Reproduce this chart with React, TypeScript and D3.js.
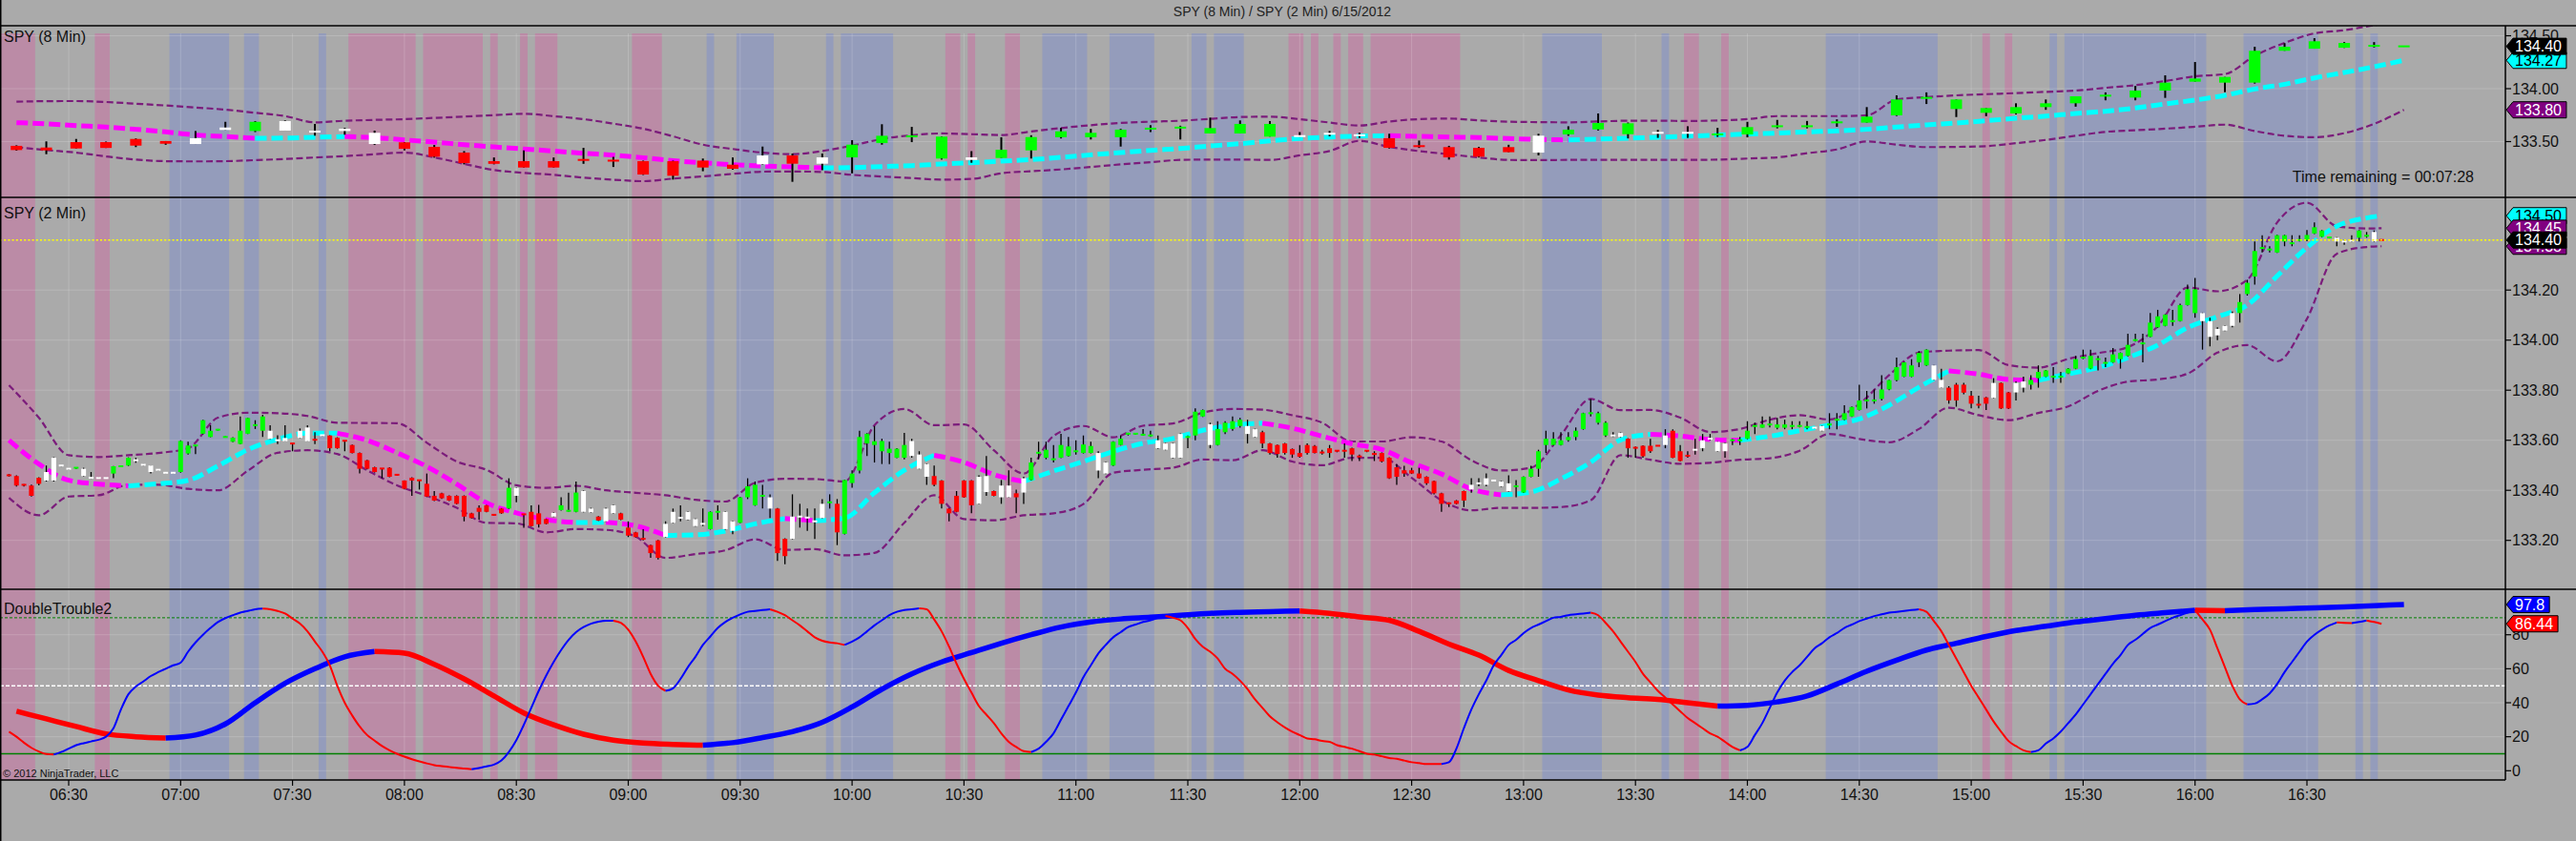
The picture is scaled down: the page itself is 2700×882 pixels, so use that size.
import React from "react";
import * as d3 from "d3";

// ---------------- DATA ----------------
const TITLE = "SPY (8 Min) / SPY (2 Min)  6/15/2012";
const TIME_REMAINING = "Time remaining = 00:07:28";
const COPYRIGHT = "\u00A9 2012 NinjaTrader, LLC";
const PANEL_LABELS = ["SPY (8 Min)", "SPY (2 Min)", "DoubleTrouble2"];

const xTickLabels = ["06:30","07:00","07:30","08:00","08:30","09:00","09:30","10:00","10:30","11:00","11:30","12:00","12:30","13:00","13:30","14:00","14:30","15:00","15:30","16:00","16:30"];
const y1Ticks = [133.5, 134.0, 134.5];
const y2Ticks = [133.2, 133.4, 133.6, 133.8, 134.0, 134.2];
const y3Ticks = [0, 20, 40, 60, 80];
const oscLevels = [90, 50, 10];

const FIRST_8MIN = "06:16";
const STEP_8MIN = 8;
const FIRST_2MIN = "06:14";
const STEP_2MIN = 2;
const BAND_SAMPLE_STEP = 4; // 2-min band/MA values are read every 4th 2-min bar (+ last bar)

const pinkBands: [string, string][] = [
  ["06:11","06:21"],["06:37","06:41"],["07:45","08:03"],["08:05","08:21"],["08:23","08:25"],
  ["08:31","08:33"],["08:35","08:41"],["09:01","09:09"],["10:25","10:29"],["10:31","10:33"],
  ["10:41","10:45"],["11:57","12:01"],["12:03","12:05"],["12:09","12:11"],["12:13","12:17"],
  ["12:19","12:43"],["13:43","13:47"],["13:53","13:55"],["15:03","15:05"],["15:09","15:11"],
];
const blueBands: [string, string][] = [
  ["06:57","07:13"],["07:17","07:21"],["07:37","07:39"],["09:21","09:23"],["09:29","09:39"],
  ["09:53","09:55"],["09:57","10:11"],["10:51","11:03"],["11:09","11:21"],["11:31","11:35"],
  ["11:37","11:45"],["13:05","13:21"],["13:37","13:39"],["14:21","14:51"],["15:21","15:23"],
  ["15:25","16:03"],["16:13","16:33"],["16:43","16:45"],["16:47","16:49"],
];

type Bar = [number, number, number, number, string]; // open, high, low, close, colour code

const bars8: Bar[] = [
  [133.46,133.465,133.415,133.42,"r"],[133.444,133.502,133.381,133.417,"r"],[133.495,133.525,133.435,133.435,"r"],
  [133.495,133.50,133.44,133.44,"r"],[133.525,133.53,133.448,133.462,"r"],[133.505,133.505,133.47,133.48,"r"],
  [133.477,133.60,133.477,133.532,"w"],[133.61,133.687,133.61,133.633,"w"],[133.60,133.694,133.59,133.687,"g"],
  [133.604,133.70,133.604,133.694,"w"],[133.59,133.667,133.556,133.594,"w"],[133.60,133.63,133.565,133.622,"w"],
  [133.477,133.604,133.468,133.583,"w"],[133.493,133.495,133.417,133.432,"r"],[133.45,133.468,133.348,133.357,"r"],
  [133.396,133.41,133.285,133.297,"r"],[133.315,133.35,133.285,133.29,"r"],[133.315,133.417,133.255,133.255,"r"],
  [133.315,133.35,133.255,133.255,"r"],[133.327,133.441,133.29,133.313,"r"],[133.32,133.356,133.26,133.31,"r"],
  [133.315,133.32,133.185,133.189,"r"],[133.315,133.32,133.141,133.177,"r"],[133.32,133.34,133.22,133.255,"r"],
  [133.282,133.35,133.235,133.243,"r"],[133.285,133.453,133.28,133.369,"w"],[133.369,133.387,133.12,133.291,"r"],
  [133.291,133.387,133.23,133.351,"w"],[133.351,133.514,133.20,133.471,"g"],[133.486,133.664,133.471,133.555,"g"],
  [133.545,133.639,133.495,133.55,"g"],[133.34,133.55,133.33,133.547,"g"],[133.327,133.41,133.30,133.351,"w"],
  [133.345,133.541,133.345,133.423,"g"],[133.417,133.56,133.34,133.543,"g"],[133.541,133.63,133.53,133.597,"g"],
  [133.541,133.62,133.52,133.583,"g"],[133.541,133.62,133.453,133.613,"g"],[133.618,133.655,133.59,133.622,"g"],
  [133.628,133.65,133.52,133.632,"g"],[133.577,133.727,133.577,133.628,"g"],[133.577,133.70,133.577,133.667,"g"],
  [133.547,133.694,133.547,133.667,"g"],[133.548,133.59,133.545,133.552,"w"],[133.556,133.60,133.55,133.574,"w"],
  [133.55,133.585,133.535,133.56,"w"],[133.532,133.574,133.435,133.441,"r"],[133.457,133.51,133.44,133.444,"r"],
  [133.448,133.46,133.33,133.351,"r"],[133.441,133.45,133.35,133.357,"r"],[133.448,133.47,133.40,133.40,"r"],
  [133.396,133.574,133.37,133.556,"w"],[133.568,133.645,133.555,133.613,"g"],[133.615,133.766,133.605,133.676,"g"],
  [133.57,133.68,133.53,133.673,"g"],[133.574,133.61,133.535,133.583,"w"],[133.568,133.645,133.535,133.583,"w"],
  [133.565,133.63,133.545,133.568,"g"],[133.568,133.687,133.54,133.637,"g"],[133.633,133.705,133.625,133.645,"g"],
  [133.635,133.695,133.625,133.645,"g"],[133.667,133.71,133.64,133.682,"g"],[133.679,133.826,133.679,133.736,"g"],
  [133.748,133.937,133.742,133.898,"g"],[133.901,133.965,133.855,133.913,"g"],[133.808,133.898,133.732,133.898,"g"],
  [133.772,133.817,133.74,133.817,"g"],[133.766,133.862,133.757,133.826,"g"],[133.826,133.898,133.80,133.862,"g"],
  [133.862,133.928,133.83,133.928,"g"],[133.922,133.965,133.89,133.934,"g"],[133.916,134.026,133.89,133.982,"g"],
  [133.982,134.126,133.913,134.057,"g"],[134.066,134.252,134.066,134.096,"g"],[134.057,134.111,133.967,134.111,"g"],
  [134.057,134.396,134.048,134.358,"g"],[134.358,134.43,134.358,134.396,"g"],[134.378,134.477,134.378,134.448,"g"],
  [134.387,134.44,134.385,134.432,"g"],[134.394,134.44,134.39,134.405,"g"],[134.398,134.402,134.396,134.40,"g"],
];

const ma8 = [
  133.679,133.667,133.651,133.637,133.616,133.592,133.562,133.547,133.532,133.533,
  133.541,133.547,133.538,133.516,133.495,133.471,133.45,133.43,133.411,133.39,
  133.372,133.348,133.32,133.30,133.282,133.27,133.261,133.252,133.255,133.264,
  133.273,133.288,133.30,133.315,133.33,133.351,133.375,133.396,133.417,133.435,
  133.459,133.48,133.507,133.529,133.543,133.552,133.556,133.55,133.543,133.538,
  133.529,133.52,133.516,133.523,133.532,133.541,133.551,133.562,133.571,133.58,
  133.592,133.601,133.616,133.637,133.658,133.676,133.697,133.72,133.741,133.766,
  133.787,133.817,133.856,133.892,133.937,133.997,134.042,134.102,134.153,134.207,
  134.268,
];
const upper8 = [
  133.877,133.882,133.883,133.874,133.858,133.841,133.822,133.802,133.772,133.741,
  133.682,133.697,133.705,133.712,133.724,133.736,133.75,133.763,133.74,133.712,
  133.67,133.622,133.55,133.471,133.43,133.396,133.381,133.411,133.462,133.525,
  133.56,133.577,133.57,133.562,133.595,133.628,133.655,133.676,133.688,133.697,
  133.715,133.732,133.736,133.712,133.68,133.651,133.69,133.712,133.718,133.70,
  133.688,133.684,133.682,133.69,133.697,133.697,133.695,133.70,133.712,133.741,
  133.741,133.741,133.748,133.898,133.92,133.937,133.948,133.958,133.97,133.982,
  134.008,134.033,134.072,134.117,134.138,134.312,134.432,134.523,134.552,134.60,
  134.64,
];
const lower8 = [
  133.448,133.42,133.396,133.36,133.33,133.315,133.313,133.315,133.325,133.336,
  133.35,133.363,133.38,133.396,133.351,133.29,133.231,133.205,133.186,133.16,
  133.14,133.126,133.15,133.171,133.195,133.216,133.218,133.213,133.186,133.17,
  133.155,133.141,133.147,133.201,133.22,133.237,133.26,133.285,133.305,133.327,
  133.33,133.33,133.327,133.37,133.411,133.507,133.45,133.41,133.381,133.35,
  133.327,133.325,133.327,133.327,133.327,133.327,133.327,133.33,133.34,133.351,
  133.39,133.426,133.502,133.471,133.448,133.45,133.457,133.485,133.516,133.555,
  133.592,133.607,133.622,133.64,133.66,133.60,133.555,133.541,133.58,133.667,
  133.80,
];

const bars2: Bar[] = [
  [133.46,133.465,133.455,133.457,"r"],[133.457,133.46,133.415,133.419,"r"],[133.422,133.425,133.415,133.419,"r"],
  [133.419,133.423,133.375,133.378,"r"],[133.45,133.452,133.42,133.426,"r"],[133.439,133.499,133.435,133.473,"w"],
  [133.439,133.532,133.435,133.53,"w"],[133.497,133.50,133.495,133.499,"w"],[133.484,133.488,133.482,133.486,"w"],
  [133.488,133.492,133.486,133.49,"g"],[133.457,133.49,133.455,133.486,"w"],[133.45,133.473,133.446,133.448,"w"],
  [133.449,133.451,133.447,133.449,"w"],[133.449,133.451,133.447,133.449,"w"],[133.467,133.497,133.448,133.496,"g"],
  [133.494,133.498,133.494,133.496,"g"],[133.499,133.532,133.497,133.53,"g"],[133.52,133.53,133.51,133.515,"w"],
  [133.502,133.505,133.498,133.50,"w"],[133.473,133.50,133.467,133.499,"w"],[133.482,133.485,133.478,133.48,"w"],
  [133.47,133.473,133.467,133.47,"w"],[133.47,133.473,133.467,133.47,"w"],[133.473,133.60,133.47,133.597,"g"],
  [133.547,133.594,133.543,133.579,"g"],[133.578,133.581,133.545,133.579,"g"],[133.626,133.682,133.624,133.68,"g"],
  [133.613,133.66,133.612,133.638,"g"],[133.64,133.645,133.638,133.642,"g"],[133.612,133.616,133.61,133.613,"g"],
  [133.594,133.612,133.592,133.61,"g"],[133.585,133.695,133.584,133.638,"g"],[133.626,133.69,133.625,133.689,"g"],
  [133.658,133.68,133.645,133.66,"g"],[133.638,133.702,133.613,133.695,"g"],[133.606,133.66,133.605,133.638,"w"],
  [133.598,133.62,133.585,133.60,"w"],[133.596,133.66,133.595,133.609,"w"],[133.587,133.587,133.556,133.585,"r"],
  [133.609,133.647,133.608,133.638,"w"],[133.596,133.66,133.595,133.651,"w"],[133.602,133.632,133.585,133.60,"r"],
  [133.618,133.622,133.616,133.62,"w"],[133.619,133.62,133.556,133.568,"r"],[133.61,133.612,133.566,133.568,"r"],
  [133.598,133.598,133.556,133.597,"r"],[133.581,133.583,133.547,133.549,"r"],[133.549,133.551,133.467,133.486,"r"],
  [133.52,133.522,133.484,133.486,"r"],[133.492,133.494,133.471,133.473,"r"],[133.487,133.487,133.448,133.486,"r"],
  [133.49,133.492,133.452,133.454,"r"],[133.462,133.464,133.458,133.46,"r"],[133.439,133.44,133.404,133.406,"r"],
  [133.45,133.452,133.378,133.439,"r"],[133.44,133.44,133.403,133.439,"r"],[133.426,133.467,133.373,133.375,"r"],
  [133.378,133.397,133.357,133.359,"r"],[133.388,133.39,133.366,133.368,"r"],[133.378,133.38,133.357,133.359,"r"],
  [133.378,133.38,133.344,133.346,"r"],[133.378,133.38,133.276,133.295,"r"],[133.308,133.31,133.287,133.289,"r"],
  [133.33,133.34,133.283,133.314,"r"],[133.34,133.342,133.312,133.314,"r"],[133.302,133.304,133.298,133.30,"r"],
  [133.327,133.329,133.306,133.308,"r"],[133.327,133.448,133.325,133.41,"g"],[133.378,133.412,133.352,133.41,"w"],
  [133.304,133.304,133.25,133.302,"r"],[133.314,133.34,133.255,133.257,"r"],[133.308,133.342,133.251,133.264,"r"],
  [133.285,133.287,133.264,133.266,"r"],[133.295,133.312,133.293,133.31,"w"],[133.321,133.372,133.319,133.34,"g"],
  [133.316,133.39,133.314,133.318,"g"],[133.314,133.435,133.312,133.391,"g"],[133.314,133.399,133.312,133.397,"w"],
  [133.312,133.33,133.31,133.327,"w"],[133.295,133.297,133.277,133.279,"r"],[133.276,133.33,133.274,133.327,"w"],
  [133.308,133.342,133.306,133.34,"w"],[133.308,133.31,133.281,133.283,"r"],[133.251,133.276,133.213,133.219,"r"],
  [133.232,133.234,133.211,133.213,"r"],[133.206,133.245,133.20,133.204,"r"],[133.181,133.183,133.13,133.149,"r"],
  [133.20,133.202,133.124,133.13,"r"],[133.213,133.276,133.211,133.266,"w"],[133.27,133.327,133.268,133.314,"w"],
  [133.288,133.34,133.276,133.29,"w"],[133.283,133.316,133.281,133.314,"w"],[133.257,133.287,133.255,133.285,"w"],
  [133.264,133.327,133.257,133.266,"w"],[133.245,133.316,133.243,133.314,"g"],[133.312,133.34,133.283,133.314,"g"],
  [133.245,133.316,133.243,133.314,"w"],[133.238,133.278,133.225,133.276,"w"],[133.27,133.374,133.268,133.372,"g"],
  [133.372,133.448,133.365,133.416,"g"],[133.34,133.435,133.338,133.422,"g"],[133.376,133.422,133.327,133.378,"g"],
  [133.327,133.384,133.289,133.372,"w"],[133.327,133.329,133.118,133.149,"r"],[133.206,133.208,133.105,133.137,"r"],
  [133.206,133.384,133.204,133.295,"w"],[133.293,133.346,133.251,133.295,"w"],[133.289,133.327,133.238,133.291,"w"],
  [133.274,133.327,133.206,133.276,"w"],[133.289,133.365,133.287,133.346,"w"],[133.35,133.384,133.327,133.352,"g"],
  [133.346,133.365,133.181,133.232,"r"],[133.226,133.443,133.224,133.441,"g"],[133.429,133.48,133.41,133.467,"g"],
  [133.479,133.638,133.467,133.613,"g"],[133.587,133.628,133.537,133.626,"g"],[133.581,133.657,133.511,133.596,"g"],
  [133.556,133.606,133.505,133.597,"g"],[133.549,133.594,133.505,133.566,"g"],[133.53,133.568,133.528,133.566,"g"],
  [133.53,133.629,133.524,133.581,"g"],[133.537,133.606,133.53,133.597,"w"],[133.486,133.556,133.484,133.543,"w"],
  [133.454,133.507,133.422,133.505,"w"],[133.457,133.499,133.416,133.422,"r"],[133.439,133.441,133.327,133.346,"r"],
  [133.327,133.329,133.276,133.308,"r"],[133.378,133.397,133.312,133.314,"r"],[133.439,133.441,133.37,133.372,"r"],
  [133.439,133.441,133.308,133.34,"r"],[133.346,133.46,133.344,133.454,"w"],[133.393,133.537,133.378,133.457,"w"],
  [133.397,133.399,133.376,133.378,"r"],[133.372,133.441,133.346,133.419,"w"],[133.372,133.48,133.37,133.419,"w"],
  [133.388,133.403,133.308,133.372,"r"],[133.391,133.454,133.346,133.448,"w"],[133.441,133.53,133.439,133.511,"g"],
  [133.548,133.594,133.524,133.55,"g"],[133.53,133.594,133.524,133.562,"g"],[133.522,133.581,133.511,133.524,"g"],
  [133.53,133.626,133.528,133.581,"g"],[133.537,133.613,133.535,133.575,"g"],[133.554,133.60,133.543,133.556,"g"],
  [133.549,133.619,133.547,133.583,"g"],[133.549,133.594,133.547,133.577,"g"],[133.479,133.556,133.448,133.549,"w"],
  [133.467,133.513,133.465,133.511,"w"],[133.499,133.596,133.497,133.594,"g"],[133.581,133.619,133.579,133.606,"g"],
  [133.624,133.63,133.619,133.626,"g"],[133.624,133.629,133.622,133.626,"g"],[133.62,133.645,133.619,133.622,"g"],
  [133.617,133.638,133.613,133.619,"g"],[133.568,133.619,133.566,133.60,"w"],[133.562,133.589,133.56,133.587,"w"],
  [133.53,133.589,133.528,133.587,"w"],[133.53,133.627,133.528,133.625,"w"],[133.611,133.619,133.568,133.613,"g"],
  [133.619,133.727,133.60,133.714,"g"],[133.695,133.723,133.693,133.721,"g"],[133.581,133.67,133.568,133.664,"w"],
  [133.581,133.676,133.579,133.645,"g"],[133.632,133.676,133.625,133.67,"g"],[133.645,133.695,133.638,133.676,"g"],
  [133.657,133.689,133.65,133.682,"g"],[133.625,133.682,133.587,133.657,"w"],[133.613,133.646,133.611,133.644,"w"],
  [133.632,133.638,133.568,133.587,"r"],[133.587,133.589,133.543,133.549,"r"],[133.581,133.583,133.53,133.545,"r"],
  [133.587,133.589,133.543,133.549,"r"],[133.565,133.567,133.53,133.543,"r"],[133.549,133.581,133.53,133.534,"r"],
  [133.581,133.587,133.543,133.549,"r"],[133.577,133.581,133.547,133.549,"r"],[133.551,133.562,133.543,133.549,"r"],
  [133.568,133.581,133.53,133.549,"r"],[133.558,133.56,133.552,133.556,"r"],[133.558,133.587,133.53,133.556,"r"],
  [133.568,133.57,133.517,133.543,"r"],[133.535,133.543,133.517,133.533,"r"],[133.558,133.56,133.552,133.556,"r"],
  [133.545,133.556,133.517,133.543,"r"],[133.549,133.551,133.511,133.515,"r"],[133.53,133.532,133.446,133.448,"r"],
  [133.492,133.505,133.422,133.454,"r"],[133.48,133.498,133.454,133.467,"r"],[133.48,133.49,133.465,133.467,"r"],
  [133.467,133.49,133.446,133.448,"r"],[133.454,133.456,133.422,133.428,"r"],[133.437,133.439,133.384,133.388,"r"],
  [133.388,133.39,133.314,133.346,"r"],[133.348,133.352,133.333,133.346,"r"],[133.359,133.361,133.344,133.346,"r"],
  [133.397,133.399,133.333,133.359,"r"],[133.403,133.448,133.39,133.422,"w"],[133.426,133.448,133.416,133.428,"w"],
  [133.422,133.467,133.416,133.448,"w"],[133.437,133.442,133.435,133.439,"w"],[133.416,133.437,133.414,133.435,"w"],
  [133.397,133.46,133.395,133.428,"w"],[133.414,133.441,133.372,133.416,"g"],[133.391,133.456,133.389,133.454,"g"],
  [133.454,133.498,133.452,133.486,"g"],[133.486,133.562,133.454,133.556,"g"],[133.581,133.638,133.549,133.606,"g"],
  [133.581,133.632,133.579,133.606,"g"],[133.581,133.632,133.579,133.60,"g"],[133.60,133.632,133.594,133.613,"g"],
  [133.613,133.651,133.60,133.638,"g"],[133.644,133.71,133.642,133.708,"g"],[133.706,133.765,133.695,133.708,"g"],
  [133.67,133.714,133.663,133.708,"g"],[133.619,133.676,133.613,133.67,"g"],[133.617,133.632,133.613,133.619,"w"],
  [133.613,133.631,133.611,133.629,"w"],[133.606,133.608,133.53,133.568,"r"],[133.57,133.575,133.53,133.568,"r"],
  [133.578,133.58,133.53,133.536,"r"],[133.578,133.606,133.549,133.556,"r"],[133.578,133.58,133.576,133.578,"r"],
  [133.581,133.644,133.568,133.619,"w"],[133.638,133.644,133.528,133.53,"r"],[133.556,133.581,133.515,133.517,"r"],
  [133.538,133.556,133.53,133.536,"r"],[133.56,133.606,133.543,133.562,"w"],[133.568,133.625,133.556,133.60,"w"],
  [133.604,133.625,133.60,133.606,"w"],[133.556,133.596,133.554,133.594,"w"],[133.556,133.589,133.53,133.587,"w"],
  [133.598,133.606,133.581,133.60,"g"],[133.598,133.613,133.581,133.60,"g"],[133.606,133.676,133.604,133.638,"g"],
  [133.655,133.67,133.625,133.657,"g"],[133.65,133.695,133.65,133.663,"g"],[133.661,133.695,133.651,133.663,"g"],
  [133.65,133.689,133.644,133.663,"g"],[133.65,133.682,133.644,133.663,"g"],[133.655,133.676,133.644,133.657,"g"],
  [133.655,133.676,133.651,133.657,"g"],[133.651,133.676,133.644,133.653,"g"],[133.648,133.652,133.646,133.65,"w"],
  [133.638,133.659,133.636,133.657,"w"],[133.661,133.708,133.644,133.663,"g"],[133.68,133.708,133.644,133.682,"g"],
  [133.682,133.74,133.68,133.708,"g"],[133.695,133.735,133.693,133.733,"g"],[133.721,133.822,133.719,133.759,"g"],
  [133.757,133.797,133.727,133.759,"g"],[133.757,133.803,133.746,133.759,"g"],[133.765,133.86,133.759,133.803,"g"],
  [133.803,133.842,133.80,133.84,"g"],[133.84,133.93,133.835,133.892,"g"],[133.854,133.913,133.852,133.911,"g"],
  [133.854,133.924,133.852,133.899,"g"],[133.911,133.956,133.892,133.949,"g"],[133.899,133.964,133.897,133.962,"g"],
  [133.841,133.901,133.839,133.899,"w"],[133.81,133.886,133.808,133.841,"w"],[133.81,133.816,133.746,133.759,"r"],
  [133.822,133.829,133.734,133.759,"r"],[133.822,133.829,133.784,133.79,"r"],[133.778,133.797,133.727,133.746,"r"],
  [133.742,133.778,133.727,133.74,"r"],[133.771,133.773,133.721,133.746,"r"],[133.769,133.848,133.767,133.829,"w"],
  [133.829,133.831,133.725,133.727,"r"],[133.791,133.793,133.725,133.727,"r"],[133.791,133.835,133.759,133.829,"w"],
  [133.81,133.854,133.791,133.835,"w"],[133.822,133.86,133.803,133.841,"g"],[133.848,133.899,133.81,133.873,"g"],
  [133.854,133.881,133.852,133.879,"g"],[133.852,133.892,133.829,133.854,"g"],[133.852,133.873,133.829,133.854,"g"],
  [133.867,133.888,133.865,133.886,"g"],[133.886,133.937,133.884,133.924,"g"],[133.928,133.962,133.924,133.93,"g"],
  [133.886,133.962,133.884,133.937,"g"],[133.922,133.937,133.879,133.924,"g"],[133.907,133.93,133.892,133.909,"g"],
  [133.911,133.968,133.909,133.943,"g"],[133.924,133.951,133.886,133.949,"g"],[133.937,134.026,133.935,133.981,"g"],
  [133.998,134.026,133.994,134.0,"g"],[133.985,134.026,133.911,133.987,"g"],[134.013,134.108,134.011,134.07,"g"],
  [134.051,134.121,134.049,134.095,"g"],[134.057,134.104,134.055,134.102,"g"],[134.074,134.121,134.057,134.076,"g"],
  [134.076,134.146,134.074,134.14,"g"],[134.14,134.222,134.138,134.203,"g"],[134.108,134.248,134.089,134.203,"g"],
  [134.076,134.11,133.962,134.108,"w"],[134.013,134.089,133.975,134.076,"w"],[134.019,134.051,134.0,134.045,"w"],
  [134.038,134.059,134.036,134.057,"w"],[134.057,134.114,134.051,134.108,"w"],[134.108,134.184,134.07,134.152,"g"],
  [134.184,134.241,134.178,134.229,"g"],[134.254,134.394,134.222,134.356,"g"],[134.366,134.419,134.35,134.368,"g"],
  [134.36,134.375,134.35,134.362,"g"],[134.35,134.421,134.348,134.419,"g"],[134.394,134.421,134.375,134.419,"g"],
  [134.385,134.419,134.375,134.387,"g"],[134.398,134.419,134.394,134.40,"g"],[134.40,134.44,134.395,134.42,"g"],
  [134.426,134.47,134.424,134.451,"g"],[134.413,134.44,134.411,134.438,"g"],[134.408,134.412,134.406,134.41,"g"],
  [134.394,134.411,134.375,134.409,"w"],[134.392,134.40,134.381,134.394,"w"],[134.395,134.419,134.391,134.397,"w"],
  [134.409,134.44,134.394,134.438,"g"],[134.415,134.432,134.409,134.417,"g"],[134.394,134.438,134.392,134.432,"w"],
  [134.40,134.402,134.398,134.40,"r"],
];

const ma2 = [
  133.60,133.505,133.44,133.425,133.418,133.426,133.44,133.497,133.562,133.604,
  133.628,133.628,133.60,133.55,133.495,133.425,133.35,133.31,133.283,133.271,
  133.272,133.258,133.22,133.222,133.237,133.266,133.287,133.279,133.289,133.39,
  133.48,133.54,133.512,133.463,133.435,133.477,133.515,133.555,133.588,133.607,
  133.64,133.66,133.668,133.648,133.616,133.586,133.563,133.51,133.465,133.405,
  133.382,133.393,133.445,133.512,133.601,133.624,133.617,133.603,133.60,133.616,
  133.638,133.661,133.685,133.74,133.812,133.877,133.864,133.843,133.84,133.865,
  133.89,133.93,133.98,134.05,134.094,134.14,134.256,134.37,134.455,134.488,
  134.497,
];
const upper2 = [
  133.82,133.69,133.54,133.533,133.54,133.549,133.568,133.69,133.71,133.708,
  133.697,133.67,133.669,133.668,133.59,133.515,133.482,133.42,133.41,133.418,
  133.40,133.39,133.38,133.362,133.355,133.43,133.446,133.445,133.435,133.66,
  133.725,133.66,133.663,133.56,133.467,133.617,133.657,133.612,133.658,133.667,
  133.71,133.725,133.722,133.70,133.67,133.595,133.595,133.612,133.595,133.52,
  133.479,133.49,133.62,133.765,133.72,133.721,133.69,133.633,133.645,133.682,
  133.70,133.683,133.745,133.86,133.95,133.958,133.96,133.90,133.89,133.925,
  133.948,133.972,134.055,134.21,134.195,134.241,134.47,134.549,134.455,134.446,
  134.447,
];
const lower2 = [
  133.37,133.30,133.375,133.38,133.422,133.422,133.406,133.40,133.478,133.55,
  133.56,133.545,133.48,133.42,133.378,133.33,133.27,133.268,133.232,133.245,
  133.242,133.215,133.13,133.145,133.16,133.204,133.162,133.165,133.14,133.15,
  133.27,133.38,133.285,133.28,133.30,133.308,133.345,133.47,133.482,133.49,
  133.523,133.52,133.56,133.515,133.50,133.53,133.53,133.45,133.36,133.32,
  133.33,133.33,133.333,133.36,133.54,133.522,133.506,133.51,133.522,133.528,
  133.558,133.625,133.605,133.592,133.645,133.73,133.70,133.68,133.709,133.735,
  133.797,133.834,133.843,133.866,133.95,133.98,133.915,134.085,134.345,134.372,
  134.375,
];

// DoubleTrouble2 on the 8-min series (thick)
const dtSlow = [
  35,30.5,26,21.7,20,19.2,21,27.5,40,51.4,
  60,67,70.1,69.2,62.6,54,44,34,27,21.5,
  18,16.3,15.5,15,16.5,19.5,23,28.5,37.5,48,
  57,64,69.5,75,80,84.5,87.5,89.3,90.3,91.5,
  92.6,93.2,93.6,94,92.6,90.5,88.5,82,74.5,68,
  59,53,47.5,44.5,43,42,40,38,38.5,40.5,
  44,51,58.5,65,71,75,79,82.5,85,87.5,
  89.5,91.5,93,94.4,94.2,94.8,95.3,95.8,96.4,97.1,
  97.8,
];
// DoubleTrouble2 on the 2-min series (thin)
const dtFast = [
  23,20,16.5,13.5,11.3,9.8,9.5,11,13,15,
  16.2,17.2,18.2,20,25,36,45,49.5,52.5,55.7,
  58,60,62,63.6,70,75.5,80,84,87.5,89.8,
  91.5,93,94,95,95.4,95,94,92.5,89.5,86.5,
  82,76,70,62,50,40,32.5,26,21,17.7,
  14.5,12,10,8.3,6.8,5.5,4.3,3.3,2.7,2.2,
  1.7,1.3,0.9,1.6,2.6,3.6,6,11,18,27,
  37,47,56,64,71,77,81.5,84.5,86.5,87.7,
  88.3,88.3,87,83,76,67,57,50,47,48.5,
  54,61,67,74,79,84,87.5,90,92,93.5,
  94,94.5,95,93.5,91.5,88.5,85.5,82,78.5,76.5,
  75.5,75,74,76,78.5,82,85.5,88.5,91.5,93.5,
  94.5,95,95.5,95,89,82,73,63,54,46,
  38,33,28,22,17,14,11.5,11,13,17,
  22,30,38,46,55,62,69,74,78.5,81.5,
  84.5,86,87.5,88.5,90,91,90,88.5,84,77.5,
  73,70,66,60,57,53,48,42,37,32,
  28.5,25.5,23,21,19,18.5,17.5,17,15,14,
  13,11.5,10,9.5,8.5,7.5,7,6,5,4.5,
  4,4,4,5,13,25,36,45,53,62,
  68,74,77,81,84,86,88,90,90.5,91.5,
  92,92.5,93,91.5,87,82,76,70,64,57,
  52,47,43,39,35,31,28,25,22,20,
  17,14,12,14,21,28,37,46,53,58,
  62,67,72,75,78.5,81,84,86,88,89.5,
  91,92,93,93.5,94,94.5,95,93.5,88,82,
  74,66,58,50,43,36,29,23,17.5,14.5,
  12,11,12,16,19,23,28,33,39,45,
  51,57,63,68,74,77,80.5,84,86,88,
  90,91.5,93,94.5,89,83,72,61,50,42,
  39,39.5,42,45.5,51,58,64,70,76,80,
  83,85.5,87.2,87,86.9,87.5,88.4,87.5,86.44,
];

// ---------------- LAYOUT / SCALES ----------------
const W = 2700, H = 882;
const RIGHT = 2626;
const P1 = { top: 27, bottom: 207 };
const P2 = { top: 207, bottom: 618 };
const P3 = { top: 618, bottom: 818 };
const STRIPE_TOP = 35;
const FONT = "'Liberation Sans', Arial, Helvetica, sans-serif";

const toMin = (s: string) => { const [h, m] = s.split(":").map(Number); return h * 60 + m; };
const x = d3.scaleLinear().domain([toMin("06:30"), toMin("16:30")]).range([72, 2418]);
const y1 = d3.scaleLinear().domain([133.5, 134.0]).range([148.5, 93]);
const y2 = d3.scaleLinear().domain([133.2, 134.2]).range([566.7, 304.2]);
const y3 = d3.scaleLinear().domain([0, 80]).range([808.3, 665.7]);

const t8 = (k: number) => toMin(FIRST_8MIN) + STEP_8MIN * k;
const t2 = (j: number) => toMin(FIRST_2MIN) + STEP_2MIN * j;
const tSample = (i: number) => t2(Math.min(i * BAND_SAMPLE_STEP, bars2.length - 1));

const COLORS: Record<string, string> = { r: "#ff0000", g: "#00ff00", w: "#ffffff" };
const PINK = "#bb8ba6", BLUE = "#949cbb", BG = "#aaaaaa";
const PURPLE = "#7b1c7b";
const GRID = "rgba(255,255,255,0.17)";

type Pt = [number, number];
function slopeRuns(pts: Pt[], up: string, down: string) {
  const out: { color: string; pts: Pt[] }[] = [];
  let cur: { color: string; pts: Pt[] } | null = null;
  let prev = up;
  for (let i = 1; i < pts.length; i++) {
    const dv = pts[i][1] - pts[i - 1][1];
    const c = dv > 0 ? up : dv < 0 ? down : prev;
    prev = c;
    if (!cur || cur.color !== c) { cur = { color: c, pts: [pts[i - 1]] }; out.push(cur); }
    cur.pts.push(pts[i]);
  }
  return out;
}
const lineGen = (ys: d3.ScaleLinear<number, number>) =>
  d3.line<Pt>().x(d => x(d[0])).y(d => ys(d[1])).curve(d3.curveMonotoneX);

const textW = (s: string) => {
  let w = 0;
  for (const ch of s) w += ch === "." ? 4.45 : 8.9;
  return w;
};
const trim = (v: number) => String(parseFloat(v.toFixed(2)));

function Tag({ y, text, bg, fg }: { y: number; text: string; bg: string; fg: string }) {
  const x0 = RIGHT + 1, h = 17, w = textW(text) + 14;
  const pts = [[x0, y], [x0 + 7, y - h / 2], [x0 + w, y - h / 2], [x0 + w, y + h / 2], [x0 + 7, y + h / 2]];
  return (
    <g>
      <polygon points={pts.map(p => p.join(",")).join(" ")} fill={bg} stroke="#000" strokeWidth={1} />
      <text x={x0 + 9} y={y} dy="0.36em" fontSize={16} fill={fg} fontFamily={FONT}>{text}</text>
    </g>
  );
}

function Candles({ bars, t, ys, bw, ww }: { bars: Bar[]; t: (i: number) => number; ys: d3.ScaleLinear<number, number>; bw: number; ww: number }) {
  return (
    <g>
      {bars.map((b, i) => {
        const cx = x(t(i));
        const [o, h, l, c, col] = b;
        const yt = Math.min(ys(o), ys(c));
        const hh = Math.max(Math.abs(ys(o) - ys(c)), 2);
        return (
          <g key={i}>
            <line x1={cx} x2={cx} y1={ys(h)} y2={ys(l)} stroke="#000" strokeWidth={ww} />
            <rect x={cx - bw / 2} y={yt - (hh === 2 ? 1 : 0)} width={bw} height={hh} fill={COLORS[col]} />
          </g>
        );
      })}
    </g>
  );
}

function BandLines({ upper, lower, t, ys }: { upper: number[]; lower: number[]; t: (i: number) => number; ys: d3.ScaleLinear<number, number> }) {
  const g = lineGen(ys);
  return (
    <g fill="none" stroke={PURPLE} strokeWidth={2.2} strokeDasharray="7 3.5">
      <path d={g(upper.map((v, i) => [t(i), v] as Pt)) || ""} />
      <path d={g(lower.map((v, i) => [t(i), v] as Pt)) || ""} />
    </g>
  );
}

function SlopeLine({ vals, t, ys, up, down, width, dash }: { vals: number[]; t: (i: number) => number; ys: d3.ScaleLinear<number, number>; up: string; down: string; width: number; dash?: string }) {
  const g = lineGen(ys);
  const runs = slopeRuns(vals.map((v, i) => [t(i), v] as Pt), up, down);
  return (
    <g fill="none">
      {runs.map((r, i) => (
        <path key={i} d={g(r.pts) || ""} stroke={r.color} strokeWidth={width} strokeDasharray={dash} strokeLinecap="butt" />
      ))}
    </g>
  );
}

const lastColor = (vals: number[], up: string, down: string) => {
  const runs = slopeRuns(vals.map((v, i) => [i, v] as Pt), up, down);
  return runs[runs.length - 1].color;
};

export default function App() {
  const xTicks = xTickLabels.map(s => ({ s, px: x(toMin(s)) }));
  const last8 = bars8[bars8.length - 1];
  const last2 = bars2[bars2.length - 1];
  const maTag8 = ma8[ma8.length - 1];
  const up8 = upper8[upper8.length - 1];
  const lo8 = lower8[lower8.length - 1];
  const ma2Last = ma2[ma2.length - 1];
  const up2 = upper2[upper2.length - 1];
  const lo2 = lower2[lower2.length - 1];
  const slowLast = dtSlow[dtSlow.length - 1];
  const fastLast = dtFast[dtFast.length - 1];

  return (
    <div>
      <style>{"body{margin:0;background:#aaaaaa;}"}</style>
      <svg width={W} height={H} style={{ display: "block" }} fontFamily={FONT}>
        <defs>
          <clipPath id="c1"><rect x={0} y={P1.top} width={RIGHT} height={P1.bottom - P1.top} /></clipPath>
          <clipPath id="c2"><rect x={0} y={P2.top} width={RIGHT} height={P2.bottom - P2.top} /></clipPath>
          <clipPath id="c3"><rect x={0} y={P3.top} width={RIGHT} height={P3.bottom - P3.top} /></clipPath>
        </defs>
        <rect x={0} y={0} width={W} height={H} fill={BG} />

        {/* background bar-state stripes */}
        <g>
          {pinkBands.map(([a, b], i) => (
            <rect key={"p" + i} x={Math.max(0, x(toMin(a)))} y={STRIPE_TOP} width={x(toMin(b)) - Math.max(0, x(toMin(a)))} height={P3.bottom - STRIPE_TOP} fill={PINK} />
          ))}
          {blueBands.map(([a, b], i) => (
            <rect key={"b" + i} x={x(toMin(a))} y={STRIPE_TOP} width={x(toMin(b)) - x(toMin(a))} height={P3.bottom - STRIPE_TOP} fill={BLUE} />
          ))}
        </g>

        {/* grid */}
        <g stroke={GRID} strokeWidth={1}>
          {xTicks.map(t => <line key={t.s} x1={t.px} x2={t.px} y1={STRIPE_TOP} y2={P3.bottom} />)}
          {y1Ticks.map(v => <line key={"g1" + v} x1={0} x2={RIGHT} y1={y1(v)} y2={y1(v)} />)}
          {y2Ticks.map(v => <line key={"g2" + v} x1={0} x2={RIGHT} y1={y2(v)} y2={y2(v)} />)}
          {y3Ticks.map(v => <line key={"g3" + v} x1={0} x2={RIGHT} y1={y3(v)} y2={y3(v)} />)}
        </g>

        {/* Panel 1: 8-min */}
        <g clipPath="url(#c1)">
          <BandLines upper={upper8} lower={lower8} t={t8} ys={y1} />
          <SlopeLine vals={ma8} t={t8} ys={y1} up="#00ffff" down="#ff00ff" width={5} dash="12 5" />
          <Candles bars={bars8} t={t8} ys={y1} bw={12} ww={2} />
        </g>

        {/* Panel 2: 2-min */}
        <g clipPath="url(#c2)">
          <BandLines upper={upper2} lower={lower2} t={tSample} ys={y2} />
          <SlopeLine vals={ma2} t={tSample} ys={y2} up="#00ffff" down="#ff00ff" width={5} dash="12 5" />
          <Candles bars={bars2} t={t2} ys={y2} bw={5} ww={1.3} />
          <line x1={0} x2={RIGHT} y1={y2(last2[3])} y2={y2(last2[3])} stroke="#ffff00" strokeWidth={1.6} strokeDasharray="2 2.2" />
        </g>

        {/* Panel 3: oscillator */}
        <g clipPath="url(#c3)">
          <line x1={0} x2={RIGHT} y1={y3(oscLevels[0])} y2={y3(oscLevels[0])} stroke="#008000" strokeWidth={1} strokeDasharray="3 2" />
          <line x1={0} x2={RIGHT} y1={y3(oscLevels[1])} y2={y3(oscLevels[1])} stroke="#ffffff" strokeWidth={1.5} strokeDasharray="4 2" />
          <line x1={0} x2={RIGHT} y1={y3(oscLevels[2])} y2={y3(oscLevels[2])} stroke="#008000" strokeWidth={1.5} />
          <SlopeLine vals={dtSlow} t={t8} ys={y3} up="#0000ff" down="#ff0000" width={5.5} />
          <SlopeLine vals={dtFast} t={t2} ys={y3} up="#0000ff" down="#ff0000" width={2} />
        </g>

        {/* panel frames */}
        <g stroke="#000" strokeWidth={1.5}>
          <line x1={0} x2={W} y1={P1.top} y2={P1.top} />
          <line x1={0} x2={W} y1={P2.top} y2={P2.top} />
          <line x1={0} x2={W} y1={P3.top} y2={P3.top} />
          <line x1={0} x2={RIGHT} y1={P3.bottom} y2={P3.bottom} />
          <line x1={RIGHT} x2={RIGHT} y1={P1.top} y2={P3.bottom} />
          <line x1={0.75} x2={0.75} y1={0} y2={H} />
        </g>

        {/* labels */}
        <text x={1344} y={17} fontSize={14} fill="#222" textAnchor="middle">{TITLE}</text>
        <text x={4} y={44} fontSize={16} fill="#111">{PANEL_LABELS[0]}</text>
        <text x={4} y={229} fontSize={16} fill="#111">{PANEL_LABELS[1]}</text>
        <text x={4} y={644} fontSize={16} fill="#111">{PANEL_LABELS[2]}</text>
        <text x={2593} y={191} fontSize={16} fill="#111" textAnchor="end">{TIME_REMAINING}</text>
        <text x={3} y={815} fontSize={11} fill="#111">{COPYRIGHT}</text>

        {/* x axis */}
        <g>
          {xTicks.map(t => (
            <g key={t.s}>
              <line x1={t.px} x2={t.px} y1={P3.bottom} y2={P3.bottom + 6} stroke="#000" strokeWidth={1.2} />
              <text x={t.px} y={839} fontSize={16} fill="#111" textAnchor="middle">{t.s}</text>
            </g>
          ))}
        </g>

        {/* right axes */}
        <g fontSize={16} fill="#111">
          {y1Ticks.map(v => (
            <g key={"a1" + v}>
              <line x1={RIGHT} x2={RIGHT + 6} y1={y1(v)} y2={y1(v)} stroke="#000" strokeWidth={1.2} />
              <text x={RIGHT + 7} y={y1(v)} dy="0.36em">{d3.format(".2f")(v)}</text>
            </g>
          ))}
          {y2Ticks.map(v => (
            <g key={"a2" + v}>
              <line x1={RIGHT} x2={RIGHT + 6} y1={y2(v)} y2={y2(v)} stroke="#000" strokeWidth={1.2} />
              <text x={RIGHT + 7} y={y2(v)} dy="0.36em">{d3.format(".2f")(v)}</text>
            </g>
          ))}
          {y3Ticks.map(v => (
            <g key={"a3" + v}>
              <line x1={RIGHT} x2={RIGHT + 6} y1={y3(v)} y2={y3(v)} stroke="#000" strokeWidth={1.2} />
              <text x={RIGHT + 7} y={y3(v)} dy="0.36em">{v}</text>
            </g>
          ))}
        </g>

        {/* price tags */}
        {y1(up8) > P1.top + 8 && <Tag y={y1(up8)} text={up8.toFixed(2)} bg="#800080" fg="#fff" />}
        <Tag y={y1(lo8)} text={lo8.toFixed(2)} bg="#800080" fg="#fff" />
        <Tag y={y1(maTag8)} text={maTag8.toFixed(2)} bg={lastColor(ma8, "#00ffff", "#ff00ff")} fg="#000" />
        <Tag y={y1(last8[3])} text={last8[3].toFixed(2)} bg="#000" fg="#fff" />

        <Tag y={y2(ma2Last)} text={ma2Last.toFixed(2)} bg={lastColor(ma2, "#00ffff", "#ff00ff")} fg="#000" />
        <Tag y={y2(up2)} text={up2.toFixed(2)} bg="#800080" fg="#fff" />
        <Tag y={y2(lo2)} text={lo2.toFixed(2)} bg="#800080" fg="#fff" />
        <Tag y={y2(last2[3])} text={last2[3].toFixed(2)} bg="#000" fg="#fff" />

        <Tag y={y3(fastLast)} text={trim(fastLast)} bg={lastColor(dtFast, "#0000ff", "#ff0000")} fg="#fff" />
        <Tag y={y3(slowLast)} text={trim(slowLast)} bg={lastColor(dtSlow, "#0000ff", "#ff0000")} fg="#fff" />
      </svg>
    </div>
  );
}
